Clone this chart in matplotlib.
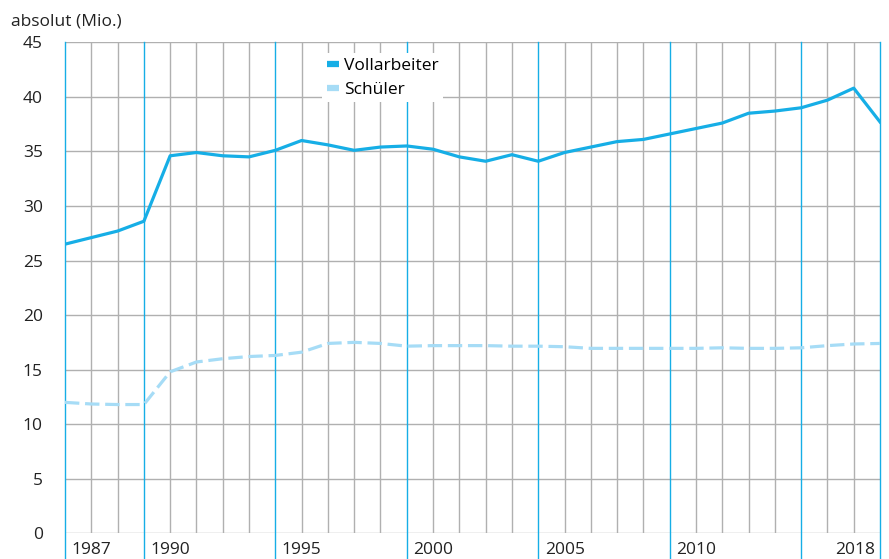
import matplotlib.pyplot as plt
from matplotlib.lines import Line2D
from matplotlib.transforms import blended_transform_factory

plt.rcParams['font.family'] = ['Open Sans', 'DejaVu Sans']

years = list(range(1987, 2019))
vollarbeiter = [26.5, 27.1, 27.7, 28.6, 34.6, 34.9, 34.6, 34.5, 35.1, 36.0,
                35.6, 35.1, 35.4, 35.5, 35.2, 34.5, 34.1, 34.7, 34.1, 34.9,
                35.4, 35.9, 36.1, 36.6, 37.1, 37.6, 38.5, 38.7, 39.0, 39.7,
                40.8, 37.7]
schueler = [12.0, 11.85, 11.8, 11.8, 14.8, 15.7, 16.0, 16.2, 16.3, 16.6,
            17.4, 17.5, 17.4, 17.15, 17.2, 17.2, 17.2, 17.15, 17.15, 17.1,
            16.95, 16.95, 16.95, 16.95, 16.95, 17.0, 16.95, 16.95, 17.0, 17.2,
            17.35, 17.4]
label_years = [1987, 1990, 1995, 2000, 2005, 2010, 2018]
blue_years = [1987, 1990, 1995, 2000, 2005, 2010, 2015, 2018]

blue = '#16aee6'
light = '#a6dcf6'
grid = '#b0b0b0'

fig = plt.figure(figsize=(8.89, 5.59), dpi=100)
ax = fig.add_axes([0.0731, 0.046, 0.9168, 0.8783])

ax.set_xlim(years[0], years[-1])
ax.set_ylim(0, 45)
for y in range(0, 50, 5):
    ax.axhline(y, color=grid, lw=1.0, zorder=1)
for yr in years:
    if yr not in blue_years:
        ax.axvline(yr, color=grid, lw=1.0, zorder=1)
for yr in blue_years:
    ax.axvline(yr, ymin=-0.06, ymax=1, color=blue, lw=1.0, zorder=2, clip_on=False)

ax.plot(years, schueler, color=light, lw=2.3, dashes=(4.5, 1.8), zorder=3)
ax.plot(years, vollarbeiter, color=blue, lw=2.3, zorder=4)

for s in ax.spines.values():
    s.set_visible(False)
ax.set_xticks([])
ax.set_yticks(range(0, 50, 5))
ax.tick_params(axis='y', length=0, pad=16, labelsize=12.5, labelcolor='#222222')

trans = blended_transform_factory(ax.transData, ax.transAxes)
for yr in label_years:
    if yr == years[-1]:
        ax.text(yr - 0.2, -0.035, str(yr), transform=trans, ha='right', va='center',
                fontsize=12.5, color='#222222')
    else:
        ax.text(yr + 0.25, -0.035, str(yr), transform=trans, ha='left', va='center',
                fontsize=12.5, color='#222222')

fig.text(0.012, 0.962, 'absolut (Mio.)', fontsize=12.5, color='#222222', va='center')

handles = [Line2D([], [], color=blue, lw=4.5, solid_capstyle='butt'),
           Line2D([], [], color=light, lw=4.5, solid_capstyle='butt')]
leg = ax.legend(handles, ['Vollarbeiter', 'Schüler'], loc='upper left',
                bbox_to_anchor=(0.305, 0.995), frameon=True, fancybox=False,
                handlelength=0.7, handletextpad=0.3, labelspacing=0.45,
                fontsize=12.5, borderpad=0.25)
leg.get_frame().set_facecolor('white')
leg.get_frame().set_edgecolor('none')
leg.get_frame().set_alpha(1)
leg.set_zorder(5)

fig.savefig('out.png', dpi=100)
